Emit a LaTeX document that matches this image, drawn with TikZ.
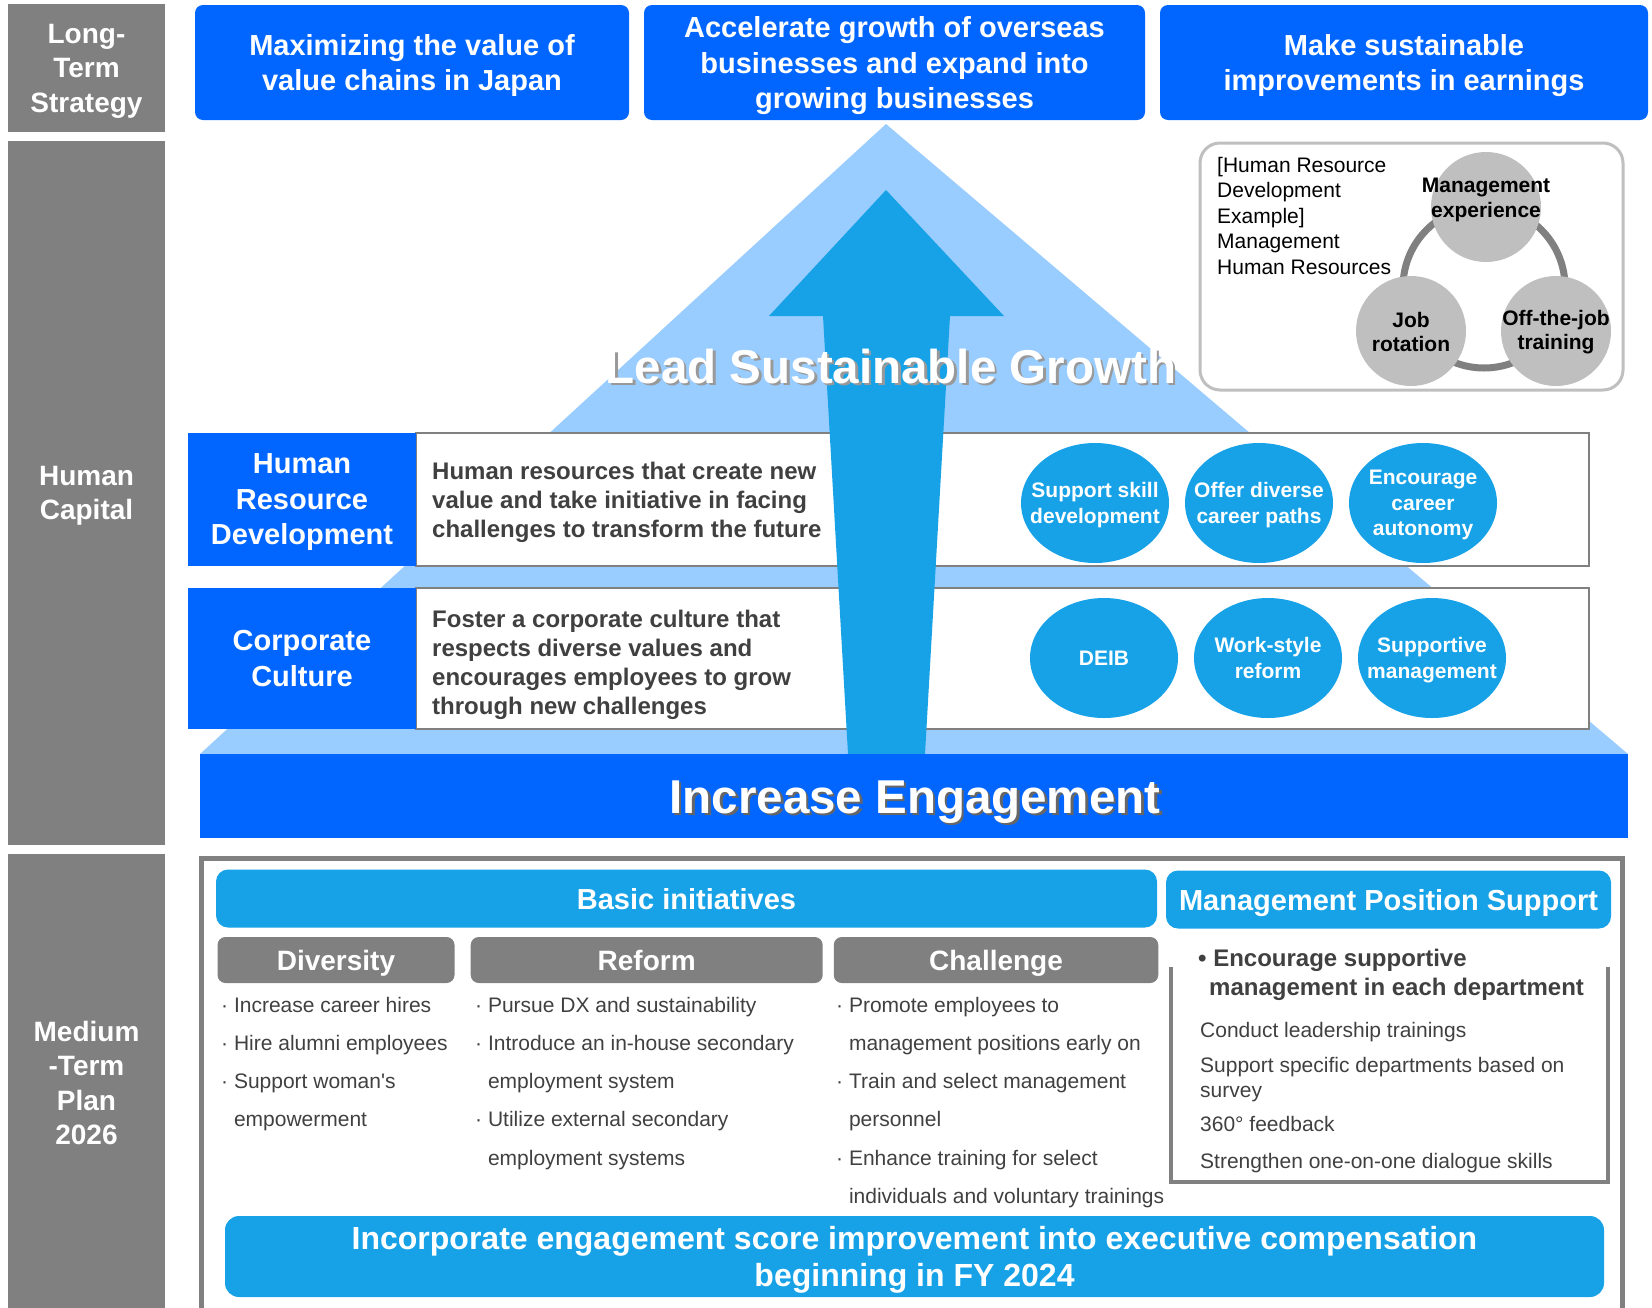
\documentclass[tikz,border=0pt]{standalone}
\usepackage{fontspec}
\setmainfont{Liberation Sans}
\usepackage{tikz}
\usetikzlibrary{shapes.geometric,positioning,calc}

\definecolor{strongblue}{RGB}{0,102,255}
\definecolor{paleblue}{RGB}{153,204,255}
\definecolor{skyblue}{RGB}{23,162,232}
\definecolor{midgrey}{RGB}{128,128,128}
\definecolor{lightgrey}{RGB}{191,191,191}
\definecolor{textgrey}{RGB}{64,64,64}

\newcommand{\fsz}[2]{\fontsize{#1pt}{#2pt}\selectfont}

\tikzset{
    sidebar/.style={fill=midgrey, text=white, font=\bfseries\fsz{28}{34.5}, align=center, minimum width=157pt, inner sep=0pt, text depth=-2pt},
    goalbox/.style={fill=strongblue, rounded corners=8pt, text=white, font=\bfseries\fsz{29}{35.5}, align=center, minimum height=115pt, inner sep=0pt, text depth=-2pt},
    themebox/.style={fill=strongblue, text=white, font=\bfseries\fsz{29}{35.5}, align=center, minimum width=228pt, inner sep=0pt, text depth=-2pt},
    panel/.style={draw=midgrey, line width=1.8pt, fill=white, minimum width=1173pt, inner sep=0pt},
    desc/.style={text=textgrey, font=\bfseries\fsz{24}{29}, align=left, anchor=west, inner sep=0pt},
    bubble/.style={ellipse, fill=skyblue, text=white, font=\bfseries\fsz{21}{25.3}, align=center, minimum width=148pt, minimum height=120pt, inner xsep=-25pt, inner ysep=0pt, text depth=0pt},
    ringtext/.style={font=\bfseries\fsz{21}{24.5}, align=center, inner sep=0pt},
    bigtext/.style={font=\bfseries\fsz{47.5}{57}, anchor=base, inner sep=0pt},
    initbar/.style={fill=skyblue, rounded corners=12pt, text=white, font=\bfseries\fsz{29}{35}, minimum height=58pt, inner sep=0pt, text height=21pt, text depth=0pt},
    pillar/.style={fill=midgrey, rounded corners=8pt, text=white, font=\bfseries\fsz{28}{34}, minimum height=46pt, inner sep=0pt, text height=20pt, text depth=0pt},
    item/.style={anchor=base west, text=textgrey, font=\fsz{21}{25}, inner sep=0pt},
    mpshead/.style={anchor=base west, text=textgrey, font=\bfseries\fsz{24}{29}, inner sep=0pt}
}

\begin{document}
\begin{tikzpicture}[x=1pt, y=-1pt]
    \useasboundingbox (0,0) rectangle (1652,1307);

    % Row labels on the left
    \node[sidebar, minimum height=128pt] (lts) at (86.5,68) {Long-\\Term\\Strategy};
    \node[sidebar, minimum height=704pt] (hcap) at (86.5,493) {Human\\Capital};
    \node[sidebar, minimum height=458pt] (mtp) at (86.5,1083) {Medium\\-Term\\Plan\\2026};

    % Long-term goals
    \node[goalbox, minimum width=434pt] (goal1) at (412,62.5) {Maximizing the value of\\value chains in Japan};
    \node[goalbox, minimum width=501pt] (goal2) at (894.5,62.5) {Accelerate growth of overseas\\businesses and expand into\\growing businesses};
    \node[goalbox, minimum width=488pt] (goal3) at (1404,62.5) {Make sustainable\\improvements in earnings};

    % Pyramid
    \fill[paleblue] (886,124) -- (1628,754) -- (200,754) -- cycle;

    % Two human capital themes
    \node[panel, minimum height=133pt] (hrdpanel) at (1002.5,499.5) {};
    \node[panel, minimum height=141pt] (ccpanel) at (1002.5,658.5) {};
    \node[themebox, minimum height=133pt] (hrd) at (302,499.5) {Human\\Resource\\Development};
    \node[themebox, minimum height=141pt] (cc) at (302,658.5) {Corporate\\Culture};

    % Growth arrow
    \fill[skyblue] (886,190) -- (1004,316) -- (950,316) -- (925,754) -- (848,754) -- (823,316) -- (769,316) -- cycle;

    \node[desc] (hrdtext) at (432,502.5) {Human resources that create new\\value and take initiative in facing\\challenges to transform the future};
    \node[desc] (cctext) at (432,665) {Foster a corporate culture that\\respects diverse values and\\encourages employees to grow\\through new challenges};

    \node[bubble] (skill) at (1095,503) {Support skill\\development};
    \node[bubble] (paths) at (1259,503) {Offer diverse\\career paths};
    \node[bubble] (autonomy) at (1423,503) {Encourage\\career\\autonomy};
    \node[bubble] (deib) at (1104,658) {DEIB};
    \node[bubble] (workstyle) at (1268,658) {Work-style\\reform};
    \node[bubble] (supportive) at (1432,658) {Supportive\\management};

    \node[bigtext, text=black!40] (leadshadow) at (893.5,385.5) {Lead Sustainable Growth};
    \node[bigtext, text=white] (lead) at (891,383) {Lead Sustainable Growth};

    % Example box, top right
    \node[draw=lightgrey, line width=3pt, fill=white, rounded corners=20pt, minimum width=423pt, minimum height=247pt, inner sep=0pt] (example) at (1411.5,266.5) {};
    \foreach \txt [count=\i] in {{[Human Resource}, {Development}, {Example]}, {Management}, {Human Resources}}
        \node[anchor=base west, font=\fsz{21}{25}, inner sep=0pt] (ex\i) at (1217,{172+25.6*(\i-1)}) {\txt};
    \draw[midgrey, line width=7pt] (1484,287) circle (81pt); % ring
    \fill[lightgrey] (1486,207) circle (55pt);
    \fill[lightgrey] (1411,331) circle (55pt);
    \fill[lightgrey] (1556,331) circle (55pt);
    \node[ringtext] (mgmtexp) at (1486,200) {Management\\experience};
    \node[ringtext] (jobrot) at (1411,332) {Job\\rotation};
    \node[ringtext] (offjt) at (1556,332) {Off-the-job\\training};

    % Base of the pyramid
    \node[fill=strongblue, minimum width=1428pt, minimum height=84pt, inner sep=0pt] (engage) at (914,796) {};
    \node[bigtext, text=black!60] (engageshadow) at (917.5,815.5) {Increase Engagement};
    \node[bigtext, text=white] (engagetext) at (915,813) {Increase Engagement};

    % Medium-term plan
    \draw[midgrey, line width=5pt] (201,1330) -- (201,858) -- (1622,858) -- (1622,1330);
    \node[initbar, minimum width=941pt] (basic) at (686.5,898.5) {Basic initiatives};
    \node[initbar, minimum width=445pt] (mps) at (1388.5,899.5) {Management Position Support};

    \node[pillar, minimum width=237pt] (diversity) at (336,960) {Diversity};
    \node[pillar, minimum width=352pt] (reform) at (646.7,960) {Reform};
    \node[pillar, minimum width=324.5pt] (challenge) at (996,960) {Challenge};

    \foreach \txt [count=\i] in {{·\ Increase career hires}, {·\ Hire alumni employees}, {·\ Support woman\textquotesingle s}, {\phantom{·\ }empowerment}}
        \node[item] (div\i) at (221,{1012+38.3*(\i-1)}) {\txt};
    \foreach \txt [count=\i] in {{·\ Pursue DX and sustainability}, {·\ Introduce an in-house secondary}, {\phantom{·\ }employment system}, {·\ Utilize external secondary}, {\phantom{·\ }employment systems}}
        \node[item] (ref\i) at (475,{1012+38.3*(\i-1)}) {\txt};
    \foreach \txt [count=\i] in {{·\ Promote employees to}, {\phantom{·\ }management positions early on}, {·\ Train and select management}, {\phantom{·\ }personnel}, {·\ Enhance training for select}, {\phantom{·\ }individuals and voluntary trainings}}
        \node[item] (chal\i) at (836,{1012+38.3*(\i-1)}) {\txt};

    \draw[midgrey, line width=4pt] (1171,967) -- (1171,1182) -- (1608,1182) -- (1608,967);
    \node[mpshead] (enc1) at (1198,966) {•\ Encourage supportive};
    \node[mpshead] (enc2) at (1209,995) {management in each department};
    \node[item] (mps1) at (1200,1037) {Conduct leadership trainings};
    \node[item] (mps2) at (1200,1072) {Support specific departments based on};
    \node[item] (mps3) at (1200,1097) {survey};
    \node[item] (mps4) at (1200,1131) {360°\ feedback};
    \node[item] (mps5) at (1200,1168) {Strengthen one-on-one dialogue skills};

    \node[fill=skyblue, rounded corners=14pt, minimum width=1379pt, minimum height=81pt, inner sep=0pt, text=white, font=\bfseries\fsz{32}{37}, align=center, text depth=-2pt] (comp) at (914.5,1256.5) {Incorporate engagement score improvement into executive compensation\\beginning in FY 2024};
\end{tikzpicture}
\end{document}
